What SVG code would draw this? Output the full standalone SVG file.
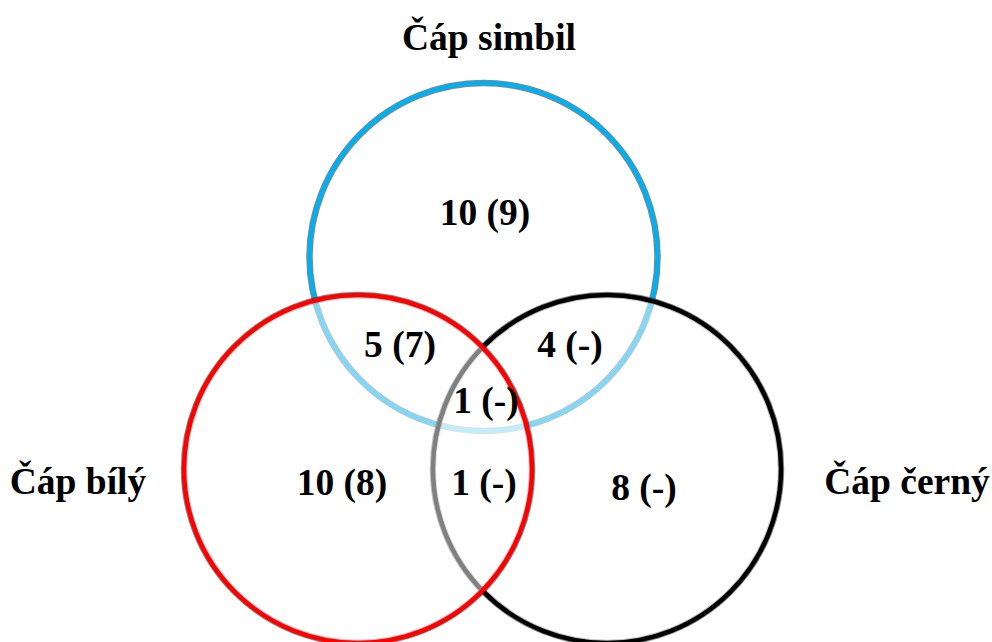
<svg xmlns="http://www.w3.org/2000/svg" width="992" height="642" viewBox="0 0 992 642">
<style>
.lbl{font-family:"Liberation Serif","Times New Roman",serif;font-weight:bold;font-size:37.5px;fill:#000;text-anchor:middle}
.edge{fill:none;stroke:#222;stroke-width:6.5;stroke-opacity:0.55}
.ring{stroke-width:4.5}
</style>
<rect width="992" height="642" fill="#fff"/>
<g id="cap-simbil">
<circle class="edge" cx="483.5" cy="257" r="174"/>
<circle class="ring" cx="483.5" cy="257" r="174" fill="none" stroke="#00b0f0"/>
<text class="lbl" x="489" y="50">Čáp simbil</text>
</g>
<g id="cap-cerny">
<circle class="edge" cx="607" cy="469" r="174"/>
<circle class="ring" cx="607" cy="469" r="174" fill="#fff" fill-opacity="0.5" stroke="#000"/>
<text class="lbl" x="907" y="494">Čáp černý</text>
</g>
<g id="cap-bily">
<circle class="edge" cx="358" cy="469" r="174" stroke-opacity="0.3"/>
<circle class="ring" cx="358" cy="469" r="174" fill="#fff" fill-opacity="0.5" stroke="#ff0000"/>
<text class="lbl" x="78" y="494">Čáp bílý</text>
</g>
<g id="regions">
<text class="lbl" x="485" y="225">10 (9)</text>
<text class="lbl" x="400" y="357">5 (7)</text>
<text class="lbl" x="570" y="357">4 (-)</text>
<text class="lbl" x="486" y="413">1 (-)</text>
<text class="lbl" x="342" y="495">10 (8)</text>
<text class="lbl" x="484" y="495">1 (-)</text>
<text class="lbl" x="644" y="500">8 (-)</text>
</g>
</svg>
